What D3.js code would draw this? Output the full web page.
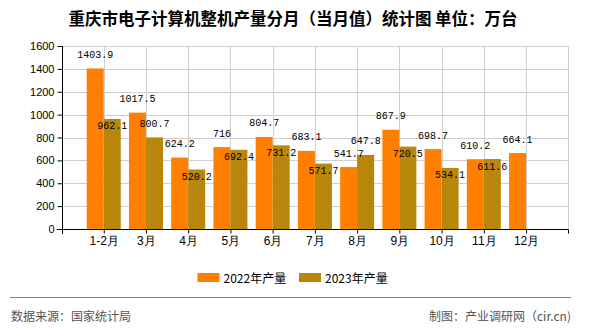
<!DOCTYPE html>
<html>
<head>
<meta charset="utf-8">
<script src="https://cdn.jsdelivr.net/npm/d3@7/dist/d3.min.js"></script>
<style>
  html, body { margin: 0; padding: 0; background: #fff; }
  svg { display: block; }
</style>
</head>
<body>
<script>
// Monthly output data (unit: 10k units)
const months = ["1-2月", "3月", "4月", "5月", "6月", "7月", "8月", "9月", "10月", "11月", "12月"];
const values2022 = [1403.9, 1017.5, 624.2, 716, 804.7, 683.1, 541.7, 867.9, 698.7, 610.2, 664.1];
const values2023 = [962.1, 800.7, 520.2, 692.4, 731.2, 571.7, 647.8, 720.5, 534.1, 611.6, null];
const seriesNames = ["2022年产量", "2023年产量"];
const yTicks = [0, 200, 400, 600, 800, 1000, 1200, 1400, 1600];

const W = 590, H = 330;
const colors = ["#FF8000", "#B8860B"];
const cjk = "'Noto Sans CJK SC', 'Noto Sans', sans-serif";
const mono = "'Liberation Mono', 'DejaVu Sans Mono', monospace";
const sans = "'Liberation Sans', Arial, sans-serif";

const svg = d3.select("body").append("svg").attr("width", W).attr("height", H);

const plot = { left: 61.5, right: 568.3, top: 46, bottom: 229 };

const x = d3.scalePoint().domain(months).range([plot.left, plot.right]).padding(1);
const y = d3.scaleLinear().domain([0, 1600]).range([plot.bottom, plot.top]);
const barW = 17;

// Title
svg.append("text")
  .attr("x", 293).attr("y", 18)
  .attr("text-anchor", "middle").attr("dominant-baseline", "central")
  .style("font-family", cjk).style("font-size", "16.5px").style("font-weight", "bold")
  .attr("fill", "#000")
  .text("重庆市电子计算机整机产量分月（当月值）统计图 单位：万台");

// Grid
const grid = svg.append("g");
grid.selectAll("line.h").data(yTicks.filter(d => d > 0)).join("line")
  .attr("x1", plot.left).attr("x2", plot.right)
  .attr("y1", d => Math.round(y(d)) + 0.5).attr("y2", d => Math.round(y(d)) + 0.5)
  .attr("stroke", "#d0d0d0").attr("stroke-width", 1);
const vGrid = months.map(m => x(m)).concat([plot.right]);
grid.selectAll("line.v").data(vGrid).join("line")
  .attr("x1", d => Math.round(d) + 0.5).attr("x2", d => Math.round(d) + 0.5)
  .attr("y1", plot.top).attr("y2", plot.bottom)
  .attr("stroke", "#d0d0d0").attr("stroke-width", 1);

// Bars
const bars = svg.append("g");
[values2022, values2023].forEach((vals, si) => {
  bars.selectAll(null).data(months.map((m, i) => ({ m, v: vals[i] })).filter(d => d.v != null))
    .join("rect")
    .attr("x", d => x(d.m) + (si === 0 ? -barW : 0))
    .attr("y", d => y(d.v))
    .attr("width", barW)
    .attr("height", d => y(0) - y(d.v))
    .attr("fill", colors[si]);
});

// Y axis
const yAxis = d3.axisLeft(y).tickValues(yTicks).tickSize(5).tickPadding(3).tickFormat(d3.format("d"));
const gy = svg.append("g").attr("transform", `translate(${Math.round(plot.left) + 0.5},0)`).call(yAxis);
gy.select(".domain").attr("stroke", "#000").attr("d", `M0,${plot.top}V${plot.bottom + 5}`);
gy.selectAll(".tick line").attr("stroke", "#000");
gy.selectAll("text").style("font-family", sans).style("font-size", "11px").attr("fill", "#000");

// X axis
const xAxis = d3.axisBottom(x).tickSize(4).tickPadding(3);
const gx = svg.append("g").attr("transform", `translate(0,${plot.bottom + 0.5})`).call(xAxis);
gx.select(".domain").attr("stroke", "#000").attr("d", `M${plot.left - 5},0H${plot.right}`);
gx.selectAll(".tick line").attr("stroke", "#000");
gx.selectAll("text").style("font-family", sans).style("font-size", "12px").attr("fill", "#000");
gx.append("line").attr("x1", Math.round(plot.right) + 0.5).attr("x2", Math.round(plot.right) + 0.5)
  .attr("y1", 0).attr("y2", 4).attr("stroke", "#000");

// Value labels: above the bar, moved below the bar top when they would collide
const placed = [];
const charW = 6, boxH = 12;
function collides(b) {
  return placed.some(p => b.x0 < p.x1 && b.x1 > p.x0 && b.y0 < p.y1 && b.y1 > p.y0);
}
const labelData = [];
[values2022, values2023].forEach((vals, si) => {
  months.forEach((m, i) => {
    const v = vals[i];
    if (v == null) return;
    const cx = x(m) + (si === 0 ? -barW / 2 : barW / 2);
    const txt = String(v);
    const w = txt.length * charW;
    let cy = y(v) - 13;
    let box = { x0: cx - w / 2, x1: cx + w / 2, y0: cy - boxH / 2, y1: cy + boxH / 2 };
    if (si > 0 && collides(box)) {
      cy = y(v) + 8;
      box = { x0: cx - w / 2, x1: cx + w / 2, y0: cy - boxH / 2, y1: cy + boxH / 2 };
    }
    placed.push(box);
    labelData.push({ cx, cy, txt });
  });
});
svg.append("g").selectAll("text").data(labelData).join("text")
  .attr("x", d => d.cx).attr("y", d => d.cy)
  .attr("text-anchor", "middle").attr("dominant-baseline", "central")
  .style("font-family", mono).style("font-size", "10px").attr("fill", "#000")
  .text(d => d.txt);

// Legend
const legend = svg.append("g");
const legendX = [197.5, 299];
seriesNames.forEach((name, i) => {
  legend.append("rect").attr("x", legendX[i]).attr("y", 273).attr("width", 22).attr("height", 9).attr("fill", colors[i]);
  legend.append("text").attr("x", legendX[i] + 26).attr("y", 277.5)
    .attr("dominant-baseline", "central")
    .style("font-family", cjk).style("font-size", "12px").attr("fill", "#000")
    .text(name);
});

// Footer
svg.append("line").attr("x1", 10).attr("x2", 571).attr("y1", 297.5).attr("y2", 297.5)
  .attr("stroke", "#888").attr("stroke-width", 1);
svg.append("text").attr("x", 11).attr("y", 315.5).attr("dominant-baseline", "central")
  .style("font-family", cjk).style("font-size", "12px").attr("fill", "#555")
  .text("数据来源：国家统计局");
svg.append("text").attr("x", 571).attr("y", 315.5).attr("dominant-baseline", "central")
  .attr("text-anchor", "end")
  .style("font-family", cjk).style("font-size", "12px").attr("fill", "#555")
  .text("制图：产业调研网（cir.cn)");
</script>
</body>
</html>
